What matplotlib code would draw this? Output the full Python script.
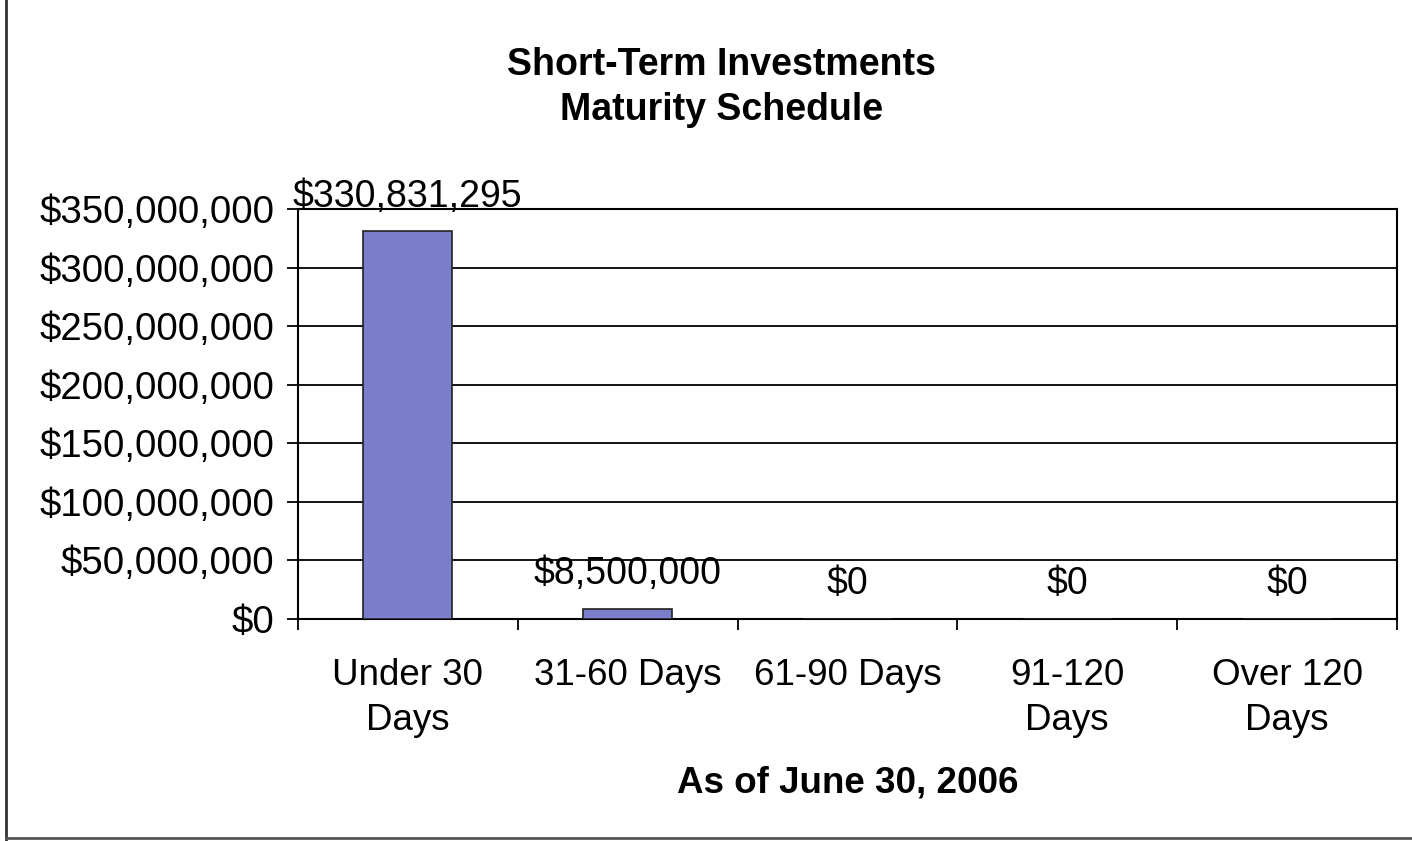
import numpy as np
import matplotlib
matplotlib.use("Agg")
import matplotlib.pyplot as plt
from matplotlib.ticker import FuncFormatter, MultipleLocator

plt.rcParams['font.family'] = ['Liberation Sans', 'DejaVu Sans']

# data
categories = ["Under 30\nDays", "31-60 Days", "61-90 Days", "91-120\nDays", "Over 120\nDays"]
values = [330831295, 8500000, 0, 0, 0]

fig = plt.figure(figsize=(14.12, 8.41), dpi=100)
ax = fig.add_axes([0.2110, 0.2640, 0.7784, 0.4875])

x = np.arange(len(categories))
bars = ax.bar(x, values, width=0.405, color="#7b7fcb", edgecolor="#222222", linewidth=1.2, zorder=3)

ax.set_xlim(-0.5, len(categories) - 0.5)
ax.set_ylim(0, 350000000)
ax.yaxis.set_major_locator(MultipleLocator(50000000))
ax.yaxis.set_major_formatter(FuncFormatter(lambda v, p: "${:,.0f}".format(v)))
ax.grid(axis="y", color="black", linewidth=1.3, zorder=0)

# category labels centered, ticks on the boundaries
ax.set_xticks(x)
ax.set_xticklabels(categories, fontsize=26.5, linespacing=1.37)
ax.tick_params(axis="x", which="major", length=0, pad=28)
ax.set_xticks(np.arange(len(categories) + 1) - 0.5, minor=True)
ax.tick_params(axis="x", which="minor", length=8, width=1.3, direction="out")
ax.tick_params(axis="y", length=8, width=1.3, direction="out", labelsize=27.6, pad=9)

for s in ax.spines.values():
    s.set_linewidth(1.5)
    s.set_color("black")

for xi, v in zip(x, values):
    ax.annotate("${:,.0f}".format(v), (xi, v), xytext=(0, 12), textcoords="offset points",
                ha="center", va="bottom", fontsize=27, clip_on=False)

ax.set_xlabel("As of June 30, 2006", fontsize=26.5, fontweight="bold", labelpad=20)
fig.text(0.511, 0.896, "Short-Term Investments\nMaturity Schedule", ha="center", va="center",
         fontsize=27, fontweight="bold", linespacing=1.33)

# outer frame (left and bottom visible)
fig.add_artist(plt.Line2D([0.0045, 0.0045], [0.0, 1.0], color="#333333", linewidth=2, transform=fig.transFigure))
fig.add_artist(plt.Line2D([0.0045, 1.0], [0.004, 0.004], color="#555555", linewidth=2, transform=fig.transFigure))

fig.savefig("out.png", dpi=100)
